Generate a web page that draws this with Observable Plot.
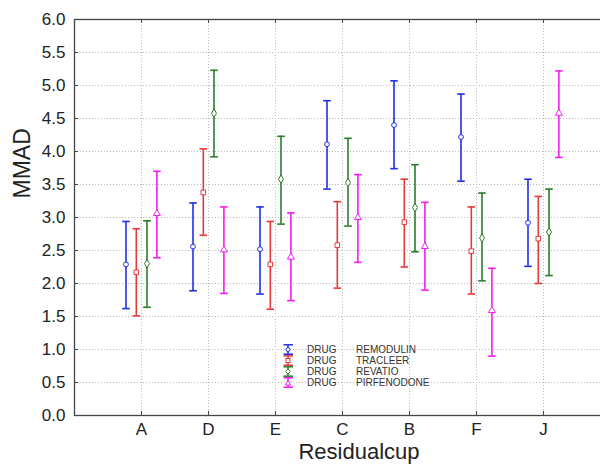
<!DOCTYPE html>
<html>
<head>
<meta charset="utf-8">
<script src="https://cdn.jsdelivr.net/npm/d3@7"></script>
<script src="https://cdn.jsdelivr.net/npm/@observablehq/plot@0.6"></script>
<style>
  html, body { margin: 0; padding: 0; background: #fff; overflow: hidden; }
  #wrap { position: relative; width: 600px; height: 469px; overflow: hidden; }
  #legend { position: absolute; left: 283px; top: 344px; font-family: "Liberation Sans", Arial, sans-serif; font-size: 10px; color: #333; }
  .row { position: relative; height: 11px; line-height: 11px; white-space: nowrap; }
  .row svg { position: absolute; left: 0; top: 0; overflow: visible; }
  .row .d { position: absolute; left: 24px; top: 0; }
  .row .n { position: absolute; left: 73px; top: 0; }
</style>
</head>
<body>
<div id="wrap"><div id="chart"></div><div id="legend"></div></div>
<script>
// ---- data ----
const categories = ["A", "D", "E", "C", "B", "F", "J"];
const seriesNames = ["REMODULIN", "TRACLEER", "REVATIO", "PIRFENODONE"];
const yTicks = [0.0, 0.5, 1.0, 1.5, 2.0, 2.5, 3.0, 3.5, 4.0, 4.5, 5.0, 5.5, 6.0];

const remodulinMean = [2.29, 2.56, 2.52, 4.11, 4.40, 4.22, 2.92];
const remodulinLow  = [1.62, 1.89, 1.84, 3.43, 3.74, 3.55, 2.26];
const remodulinHigh = [2.94, 3.22, 3.16, 4.77, 5.07, 4.87, 3.58];

const tracleerMean = [2.17, 3.38, 2.29, 2.58, 2.93, 2.49, 2.68];
const tracleerLow  = [1.51, 2.73, 1.61, 1.93, 2.25, 1.84, 2.00];
const tracleerHigh = [2.83, 4.04, 2.94, 3.24, 3.58, 3.16, 3.32];

const revatioMean = [2.30, 4.58, 3.58, 3.53, 3.15, 2.69, 2.78];
const revatioLow  = [1.64, 3.92, 2.90, 2.87, 2.48, 2.04, 2.12];
const revatioHigh = [2.95, 5.23, 4.23, 4.20, 3.80, 3.37, 3.43];

const pirfenodoneMean = [3.06, 2.51, 2.40, 3.00, 2.56, 1.59, 4.58];
const pirfenodoneLow  = [2.39, 1.85, 1.74, 2.32, 1.90, 0.90, 3.91];
const pirfenodoneHigh = [3.70, 3.16, 3.07, 3.65, 3.23, 2.23, 5.22];

// ---- styling ----
const colors = ["#1f2fe6", "#e8393a", "#2b7d2b", "#f21ff2"];
const symbols = ["circle", "square", "diamond", "triangle"];
const offsets = [-15.5, -5.2, 5.5, 15.4];
const font = "'Liberation Sans', Arial, Helvetica, sans-serif";

const seriesData = [
  [remodulinMean, remodulinLow, remodulinHigh],
  [tracleerMean, tracleerLow, tracleerHigh],
  [revatioMean, revatioLow, revatioHigh],
  [pirfenodoneMean, pirfenodoneLow, pirfenodoneHigh]
];

const capSymbol = {
  draw(context, size) {
    const r = Math.sqrt(size / Math.PI);
    context.moveTo(-r, 0);
    context.lineTo(r, 0);
  }
};

const marks = [];
const frameW = 600 + 3 - 74;
const frameH = 415 - 19;

marks.push(Plot.gridY(yTicks, {stroke: "#b8b8b8", strokeOpacity: 1, strokeDasharray: "1,2"}));
marks.push(Plot.gridX(categories, {stroke: "#b8b8b8", strokeOpacity: 1, strokeDasharray: "1,2"}));
marks.push(Plot.frame({stroke: "#444", strokeWidth: 1.3}));
// small inward ticks
marks.push(Plot.tickY(yTicks, {y: d => d, stroke: "#444", insetRight: frameW - 4}));
marks.push(Plot.tickX(categories, {x: d => d, stroke: "#444", insetTop: frameH - 4}));
marks.push(Plot.tickX(categories, {x: d => d, stroke: "#444", insetBottom: frameH - 4}));

seriesData.forEach(([mean, lo, hi], s) => {
  const rows = categories.map((c, i) => ({cat: c, mean: mean[i], lo: lo[i], hi: hi[i]}));
  const color = colors[s];
  const dx = offsets[s];
  marks.push(Plot.ruleX(rows, {x: "cat", y1: "lo", y2: "hi", stroke: color, strokeWidth: 1.6, dx}));
  marks.push(Plot.dot(rows, {x: "cat", y: "hi", symbol: capSymbol, r: 3.8, stroke: color, strokeWidth: 1.6, dx}));
  marks.push(Plot.dot(rows, {x: "cat", y: "lo", symbol: capSymbol, r: 3.8, stroke: color, strokeWidth: 1.6, dx}));
  marks.push(Plot.dot(rows, {x: "cat", y: "mean", symbol: symbols[s], r: s === 0 ? 2.4 : 2.6, stroke: color, fill: "white", strokeWidth: 1, dx}));
});

// axes
marks.push(Plot.axisY(yTicks, {tickSize: 0, tickPadding: 9, tickFormat: d => d.toFixed(1), fontSize: 17, fill: "#222", label: null}));
marks.push(Plot.axisX(categories, {tickSize: 0, tickPadding: 7, fontSize: 17, fill: "#222", label: null}));
marks.push(Plot.text(["MMAD"], {frameAnchor: "left", dx: -52, dy: -19, rotate: -90, fontSize: 23, fill: "#222"}));
marks.push(Plot.text(["Residualcup"], {frameAnchor: "bottom", dx: 20, dy: 43, fontSize: 22, fill: "#222"}));

const chart = Plot.plot({
  width: 600,
  height: 469,
  marginLeft: 74,
  marginRight: -3,
  marginTop: 19,
  marginBottom: 54,
  style: {fontFamily: font, background: "white", overflow: "visible"},
  x: {type: "point", domain: categories, range: [141, 543], padding: 0},
  y: {domain: [0, 6]},
  marks
});
document.getElementById("chart").appendChild(chart);

// legend
const legend = document.getElementById("legend");
seriesNames.forEach((name, s) => {
  const row = document.createElement("div");
  row.className = "row";
  const c = colors[s];
  let marker = "";
  if (s === 0) marker = `<circle cx="5" cy="5.5" r="2" fill="white" stroke="${c}"/>`;
  if (s === 1) marker = `<rect x="3" y="3.5" width="4" height="4" fill="white" stroke="${c}"/>`;
  if (s === 2) marker = `<path d="M5,3 L7.5,5.5 L5,8 L2.5,5.5Z" fill="white" stroke="${c}"/>`;
  if (s === 3) marker = `<path d="M5,3 L7.5,8 L2.5,8Z" fill="white" stroke="${c}"/>`;
  row.innerHTML = `<svg width="11" height="11">
      <line x1="0.5" x2="10" y1="0.8" y2="0.8" stroke="${c}" stroke-width="1.5"/>
      <line x1="5" x2="5" y1="0.8" y2="10.2" stroke="${c}" stroke-width="1.5"/>
      <line x1="0.5" x2="10" y1="10.2" y2="10.2" stroke="${c}" stroke-width="1.5"/>
      ${marker}
    </svg><span class="d">DRUG</span><span class="n">${name}</span>`;
  legend.appendChild(row);
});
</script>
</body>
</html>
